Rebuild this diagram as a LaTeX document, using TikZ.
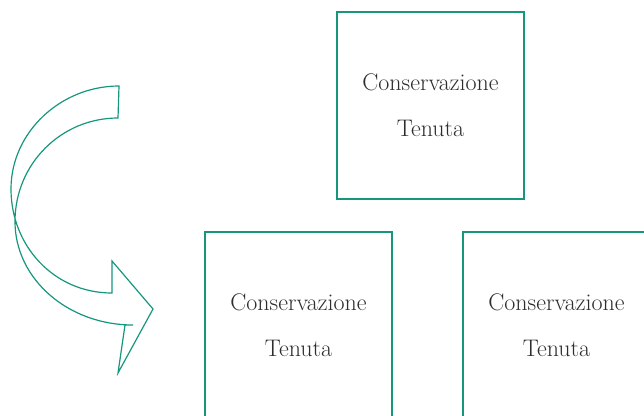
\documentclass[tikz,border=0pt]{standalone}
\usepackage{fontspec}
\definecolor{teal1}{RGB}{22,150,125}
\definecolor{txt}{RGB}{45,45,45}
\begin{document}
\begin{tikzpicture}[x=1pt,y=-1pt,
  box/.style={draw=teal1,line width=1.1pt,minimum width=187pt,minimum height=187pt,
    inner sep=0pt,align=center,text=txt,font=\fontsize{24}{46}\selectfont},
  arr/.style={draw=teal1,line width=1.2pt,line join=miter}]
\useasboundingbox (0,0) rectangle (644,415);
\node[box] (top) at (430.5,105.5) {Conservazione\\Tenuta};
\node[box] (bl) at (298.5,325.5) {Conservazione\\Tenuta};
\node[box] (br) at (556.5,325.5) {Conservazione\\Tenuta};
\draw[arr] (119,86) .. controls (61,86) and (11,132) .. (11,189)
  .. controls (11,246) and (54,293) .. (112,293)
  -- (112,261) -- (153,309) -- (118,373) -- (125,325) -- (133,325)
  .. controls (68,325) and (15,279) .. (15,221.5)
  .. controls (15,164) and (61,118) .. (118,118) -- cycle;
\end{tikzpicture}
\end{document}
